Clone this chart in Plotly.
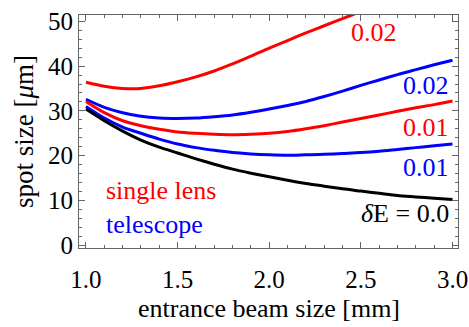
import plotly.graph_objects as go

# entrance beam size [mm]
beam_size = [1.0, 1.1, 1.2, 1.3, 1.4, 1.5, 1.6, 1.7, 1.8, 1.9, 2.0,
             2.1, 2.2, 2.3, 2.4, 2.5, 2.6, 2.7, 2.8, 2.9, 3.0]

# spot size [um]
dE_00 = [30.4, 27.8, 25.5, 23.5, 21.9, 20.6, 19.3, 18.1, 17.0, 16.1, 15.3,
         14.5, 13.8, 13.2, 12.6, 12.1, 11.6, 11.1, 10.8, 10.5, 10.2]
telescope_001 = [31.0, 28.4, 26.4, 25.0, 23.7, 22.6, 21.8, 21.2, 20.7, 20.4, 20.2,
                 20.1, 20.2, 20.3, 20.5, 20.7, 21.0, 21.4, 21.8, 22.2, 22.6]
single_001 = [32.1, 29.6, 27.8, 26.7, 25.9, 25.3, 25.0, 24.8, 24.7, 24.8, 25.0,
              25.4, 26.0, 26.7, 27.5, 28.3, 29.1, 29.9, 30.7, 31.4, 32.2]
telescope_002 = [32.6, 30.8, 29.6, 28.8, 28.4, 28.3, 28.4, 28.7, 29.1, 29.7, 30.4,
                 31.2, 32.1, 33.2, 34.4, 35.7, 36.9, 38.1, 39.2, 40.3, 41.3]
beam_size_single_002 = [1.0, 1.1, 1.2, 1.3, 1.4, 1.5, 1.6, 1.7, 1.8, 1.9, 2.0,
                        2.1, 2.2, 2.3, 2.4, 2.5, 2.6]
single_002 = [36.4, 35.5, 35.0, 35.0, 35.6, 36.5, 37.6, 38.9, 40.5, 42.2, 44.0,
              45.7, 47.4, 49.0, 50.6, 52.2, 53.8]

RED = "#ff0000"
BLUE = "#0000ff"
FONT = "Liberation Serif, Times New Roman, serif"

fig = go.Figure()
series = [
    (beam_size_single_002, single_002, RED),
    (beam_size, telescope_002, BLUE),
    (beam_size, single_001, RED),
    (beam_size, telescope_001, BLUE),
    (beam_size, dE_00, "#000000"),
]
for xs, ys, c in series:
    fig.add_trace(go.Scatter(x=xs, y=ys, mode="lines",
                             line=dict(color=c, width=3, shape="spline", smoothing=0.8),
                             showlegend=False, hoverinfo="skip"))

labels = [
    (2.57, 47.6, "0.02", RED, "center", 0),
    (2.99, 35.7, "0.02", BLUE, "right", 0),
    (2.99, 26.3, "0.01", RED, "right", 0),
    (2.99, 17.4, "0.01", BLUE, "right", 0),
    (2.99, 7.2, "<i>δ</i>E = 0.0", "#000000", "right", 0),
]
for x, y, t, c, xa, xs in labels:
    fig.add_annotation(x=x, y=y, text=t, showarrow=False, xanchor=xa, xshift=xs,
                       yanchor="middle", font=dict(family=FONT, size=26, color=c))

# method key (two coloured lines in one text block)
fig.add_annotation(
    x=1.10, y=8.4, xanchor="left", yanchor="middle", align="left", showarrow=False,
    text=f"<span style='color:{RED}'>single lens</span><br>"
         f"<span style='color:{BLUE}'>telescope</span>",
    font=dict(family=FONT, size=26, color=RED),
)

# x-axis title placed below the tick labels
fig.add_annotation(
    x=0.5, y=-0.258, xref="paper", yref="paper", xanchor="center", yanchor="middle",
    showarrow=False, text="entrance beam size [mm]",
    font=dict(family=FONT, size=26, color="#000000"),
)

axis_common = dict(
    showline=True, linecolor="#666666", linewidth=1, mirror="ticks",
    ticks="inside", ticklen=6, tickcolor="#666666", tickwidth=1,
    showgrid=False, zeroline=False, automargin=False,
    tickfont=dict(family=FONT, size=25, color="#000000"),
)

fig.update_xaxes(
    range=[0.962, 3.03], tick0=1.0, dtick=0.5, tickformat=".1f",
    ticklabelstandoff=9,
    minor=dict(ticks="inside", ticklen=3, dtick=0.1, tick0=1.0, tickcolor="#666666"),
    **axis_common,
)
fig.update_yaxes(
    range=[-0.6, 51.4], tick0=0, dtick=10,
    minor=dict(ticks="inside", ticklen=3, dtick=2, tick0=0, tickcolor="#666666"),
    title=dict(text="spot size [<i>μ</i>m]", standoff=6,
               font=dict(family=FONT, size=27, color="#000000")),
    **axis_common,
)

fig.update_layout(
    width=469, height=327,
    margin=dict(l=79, r=11, t=15, b=79),
    paper_bgcolor="white", plot_bgcolor="white",
    font=dict(family=FONT),
)

fig.write_html("out.html")
